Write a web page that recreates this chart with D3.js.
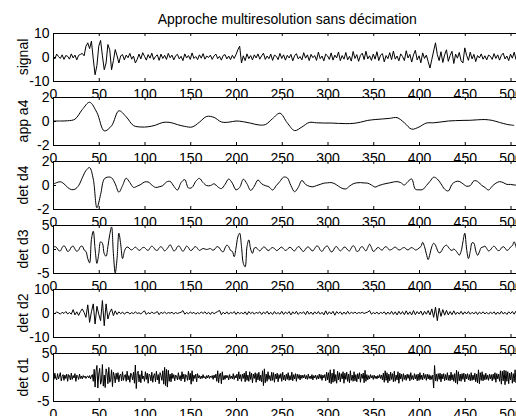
<!DOCTYPE html>
<html>
<head>
<meta charset="utf-8">
<script src="https://cdnjs.cloudflare.com/ajax/libs/d3/7.8.5/d3.min.js"></script>
<style>
	body { margin: 0; background: #fff; }
	svg { display: block; }
</style>
</head>
<body>
<svg id="fig"></svg>
<script>
const title = "Approche multiresolution sans décimation";
const labels = ["signal", "app a4", "det d4", "det d3", "det d2", "det d1"];
const xTicks = [0, 50, 100, 150, 200, 250, 300, 350, 400, 450, 500];
const yTicks = [[-10, 0, 10], [-2, 0, 2], [-2, 0, 2], [-5, 0, 5], [-10, 0, 10], [-5, 0, 5]];
const nSamples = 512;

// sample spacing of each list below (values read every `step` samples)
const steps = [2, 8, 4, 2, 2, 1];

const signal = [
	0.5, -0.8, 1.2, 0.2, -0.6, 0.9, -1.0, 0.6, 0.3, -0.9, 1.3, -0.4, 0.8, -1.2, 0.7, 1.1,
	1.5, 0.5, 4.5, 5.9, 3.5, 6.6, -0.8, -7.4, -3.5, 4.5, 6.9, 0.5, -5.3, -2.5, 5.2, 3.0,
	-5.3, -1.5, 3.1, 0.5, -2.5, 0.5, 1.0, -1.2, 0.8, -0.3, 1.5, -0.9, 0.4, -2.5, -1.0, 1.2,
	-0.8, 1.8, 0.3, -1.3, 1.0, -0.5, 1.6, -1.1, 0.2, 0.9, -1.4, 1.2, -0.6, 0.7, -1.0, 1.5,
	-0.3, 0.8, -1.2, 0.5, 1.1, -0.8, 0.3, -1.5, 1.3, -0.4, 0.6, -1.0, 1.7, -0.6, 0.2, -1.1,
	0.9, -0.5, 1.4, -0.9, 0.4, -0.2, 0.8, -1.0, 0.5, 1.2, -0.7, 0.3, -1.3, 0.6, 1.0, -0.8,
	0.4, -1.1, 0.7, -0.6, 1.0, 3.0, 4.5, -2.5, 0.5, -1.5, 1.3, -0.7, 0.6, -1.2, 0.9, -0.4,
	1.3, -0.9, 0.5, 1.6, -1.0, 0.4, -0.7, 1.2, -1.4, 0.8, 0.3, -1.1, 1.5, -0.6, 0.9, -1.3,
	0.7, -0.4, 1.1, -1.6, 0.5, 1.4, -0.8, 0.2, -1.2, 1.8, -0.5, 0.9, -1.5, 1.1, -0.3, 0.6,
	-1.4, 2.0, -0.7, 0.4, -1.6, 1.2, 0.5, -1.0, 1.7, -1.3, 0.8, -0.4, 2.1, -1.5, 0.6, -0.9,
	1.9, -1.2, 0.3, -1.7, 2.3, -0.6, 1.0, -1.8, 0.7, 1.6, -1.1, 2.4, -0.8, 0.5, -1.4, 1.2,
	-0.9, 2.2, -1.5, 0.8, 1.4, -2.0, 0.6, -0.7, 1.8, -1.1, 2.5, -0.9, 0.4, -1.6, 1.3, 0.2,
	-1.5, 2.6, -0.4, 1.1, -2.1, 0.9, 2.8, -1.2, 0.5, -2.4, 1.7, -0.6, 0.8, -1.9, -4.6, -1.0,
	2.5, 5.9, 1.0, -1.5, 2.2, -2.3, 0.9, 3.0, -1.8, 0.6, 2.4, -2.7, 1.2, -0.5, 1.9, -1.6,
	-2.5, 3.8, 0.7, -1.4, 2.0, -0.8, 1.1, -1.9, 0.6, -0.4, 1.3, -0.9, 0.5, -1.2, 0.8, 0.3,
	-1.0, 1.4, -0.6, 0.9, -1.3, 0.7, 1.6, -0.8, 0.4, -1.5, 1.2, -0.5, 2.0, -1.0, 0.6, -0.7
];

const a4 = [
	0, 0, 0.02, 0.15, 0.95, 1.56, 0.7, -0.82, -0.4, 0.85, 0.35, -0.38, -0.5, -0.48, -0.35, -0.12,
	-0.12, -0.3, -0.45, -0.5, -0.1, 0.38, 0.3, -0.08, -0.1, 0, -0.06, -0.18, -0.32, -0.3, 0.2, 0.65,
	-0.15, -0.8, -0.5, -0.12, -0.15, -0.17, -0.17, -0.2, -0.22, -0.2, -0.1, 0.05, 0.12, 0.17, 0.22, 0.28,
	-0.15, -0.68, -0.5, -0.17, -0.15, -0.08, 0, 0.03, 0.05, 0.06, 0.1, 0.12, 0.05, -0.12, -0.28, -0.37
];

const d4 = [
	0.05, 0.2, 0.27, 0.1, -0.2, -0.38, -0.35, -0.05, 0.6, 1.2, 1.45, 0.5, -1.9, -0.8, 0.5, 0.66,
	0.6, 0.1, -0.6, -0.05, 0.56, 0.2, -0.2, -0.1, 0.05, 0.25, 0.25, 0, -0.2, -0.15, -0.05, 0.25,
	0.3, -0.1, -0.42, 0.2, 0.45, -0.25, -0.2, 0.3, 0.55, 0.2, -0.05, -0.05, 0.1, -0.15, -0.3, 0.05,
	0.5, 0.15, -0.4, -0.2, 0.48, 0.1, -0.45, -0.1, 0.42, 0.1, -0.05, -0.15, -0.42, -0.05, 0.3, 0.65,
	0.6, -0.05, -0.56, -0.2, 0.38, 0.05, -0.1, -0.15, -0.05, 0.05, 0.15, 0.18, 0.2, 0.1, -0.1, -0.28,
	-0.33, -0.1, 0.1, 0.18, 0.2, 0.17, 0.15, 0, -0.17, -0.05, 0.05, 0.12, 0.18, 0.25, 0.28, 0.2,
	0, 0.3, 0.5, -0.35, -0.4, -0.38, -0.05, 0.3, 0.65, 0.5, 0.1, -0.35, -0.5, 0.05, 0.28, 0.3,
	0.1, -0.1, -0.05, 0.35, 0.3, 0, -0.2, -0.42, -0.1, 0.15, 0.28, 0.2, 0.05, 0.05, 0, 0
];

const d3v = [
	0.2, 0.5, 0.3, -0.3, -0.4, 0.3, 0.7, 0.2, -0.5, -0.3, 0.4, 0.6, 0, -0.5, -0.2, 0.5,
	0.6, -0.2, -0.5, -2.0, -2.9, 2.0, 3.7, 0.0, -3.0, -1.0, 1.5, 1.2, -1.0, -1.5, 0.5, 3.0,
	4.6, -1.0, -5.0, -2.0, 3.3, 1.0, -2.0, -0.5, 0.3, 0.4, 0, -0.2, 0.1, 0.4, 0.1, -0.3,
	-0.1, 0.3, 0.3, -0.1, -0.3, 0.2, 0.6, 0.3, -0.2, -0.3, 0.2, 0.5, 0.1, -0.4, -0.1, 0.4,
	0.9, 0.3, -0.4, -0.2, 0.5, 0.6, 0, -0.5, 0, 0.6, 0.3, -0.3, -0.2, 0.3, 0.5, 0.1,
	-0.3, -0.1, 0.1, 0, -0.1, 0, 0.1, -0.2, -0.2, 0.3, 0.5, 0.2, -0.4, -0.6, 0.2, 0.8,
	0.5, -0.3, -0.5, -1.6, 0.2, 2.5, 3.3, 0.5, -3.0, -3.7, 0.5, 1.9, 0, -0.9, 0.2, 0.3,
	-0.1, -0.4, 0, 0.4, 0.3, -0.2, -0.3, 0.1, 0.3, 0.1, -0.3, -0.2, 0.2, 0.4, 0, -0.3,
	-0.1, 0.3, 0.3, -0.2, -0.4, 0.1, 0.5, 0.3, -0.3, -0.5, 0, 0.4, 0.3, -0.2, -0.4, 0.1,
	0.6, 0.5, -0.2, -0.5, 0, 0.5, 0.6, 0, -0.6, -0.4, 0.3, 0.5, 0, -0.4, -0.1, 0.4,
	0.3, -0.2, -0.4, 0.2, 0.7, 0.3, -0.5, -0.4, 0.3, 0.5, 0, -0.4, 0.3, 1.0, 0.3, -0.5,
	-0.3, 0.2, 0.3, -0.1, -0.2, 0.3, 0.5, 0.1, -0.2, -0.1, 0.2, 0.4, 0.1, -0.2, -0.1, 0.2,
	0.3, 0, -0.2, 0.1, 0.3, 0.1, -0.2, -0.1, 0.2, 0.5, 1.4, 0.5, -1.0, -2.2, -1.0, 0.5,
	1.2, 0.8, -0.2, -0.8, -0.6, 0.1, 0.6, 0.8, 0.4, -0.1, -0.3, 0, -0.3, -0.8, -1.3, -0.5,
	1.5, 3.3, 0, -2.0, -0.5, 1.3, 1.2, -0.4, -1.3, -0.6, 0.3, 0.4, 0.6, 0.1, -0.4, -0.2,
	0.3, 0.6, 0.2, -0.3, -0.3, 0.2, 0.5, 0.2, -0.3, -0.1, 0.4, 0.7, 1.5, 0.5, -0.5, 0.2
];

const d2 = [
	0.2, -0.3, 0.4, 0.1, -0.5, 0.3, -0.2, 0.6, -0.4, 0.2, -0.5, 1.4, -0.8, 0.5, -1.0, 0.6,
	1.7, 0.2, -1.8, 3.4, -3.9, 0.5, 3.8, -4.6, 2.8, -0.5, -3.2, 5.2, -5.3, 3.8, -2.5, 0.2,
	1.7, -1.1, 0.9, -0.6, 0.5, -0.3, 0.4, -0.5, 0.2, 0.3, -0.4, 0.2, -0.3, 0.5, -0.2, 0.1,
	-0.4, 0.3, 0.9, -0.6, 0.2, -0.3, 0.4, -0.2, 0.1, 0.6, -0.7, 0.3, -0.2, 0.4, -0.3, 0.2,
	-0.1, 0.3, -0.4, 0.2, -0.2, 0.1, 0.3, 1.0, -0.5, 0.2, -0.3, 0.4, -0.2, 0.3, -0.5, 0.2,
	-0.3, 0.4, -0.2, 0.5, -0.4, 0.3, -0.6, 0.4, -0.3, 0.2, 0.6, 1.1, -0.7, 0.3, -0.4, 0.5,
	-0.5, 0.3, -0.2, 0.6, -0.6, 0.4, -0.3, 0.2, -0.4, 0.5, -0.7, 0.6, -0.3, 0.4, -0.5, 0.3,
	-0.2, 0.5, -0.6, 0.4, -0.3, 0.7, -0.5, 0.3, -0.6, 0.6, -0.4, 0.2, -0.5, 0.7, -0.6, 0.4,
	-0.3, 0.6, -0.8, 0.5, -0.4, 0.7, -0.6, 0.3, -0.2, 0.5, -0.7, 0.8, -0.5, 0.4, -0.6, 0.5,
	-0.4, 0.6, -0.5, 0.3, -0.8, 0.9, -0.6, 0.5, -0.4, 0.7, -0.9, 0.6, -0.3, 0.5, -0.6, 0.4,
	-0.5, 0.7, -0.4, 0.3, -0.2, 0.4, -0.3, 0.2, -0.1, 0.3, -0.2, 0.1, 0.4, 1.0, -0.5, 0.2,
	-0.3, 0.4, -0.5, 0.3, -0.2, 0.5, -0.6, 0.4, -0.5, 0.7, -0.6, 0.5, -0.8, 0.7, -0.5, 0.6,
	-0.7, 0.9, -0.6, 0.5, -0.8, 1.0, -0.7, 0.6, -0.4, 0.8, -0.9, 0.7, -0.5, 1.0, -0.8, 1.7,
	-1.8, 2.4, -3.2, 2.0, -1.4, 1.4, -0.9, 1.1, -0.8, 0.6, -0.7, 0.9, -0.6, 0.4, -0.5, 0.7,
	-0.6, 0.5, -0.4, 0.6, -0.5, 0.3, -0.4, 0.5, -0.6, 0.4, -0.3, 0.5, -0.4, 0.3, -0.5, 0.4,
	-0.3, 0.5, -0.6, 0.4, -0.5, 0.7, -0.4, 0.3, -0.6, 0.5, -0.3, 0.6, -0.5, 0.8, -0.4, 0.3
];

const d1 = [
	0.3, -0.5, 0.8, -0.2, -0.6, 0.7, -0.4, 0.2, 0.9, -0.8, 0.1, 0.5, -0.7, 0.4, -0.3, 0.6,
	-0.9, 0.5, 0.2, -0.6, 0.8, -0.5, 0.3, -0.2, 0.7, -0.9, 0.4, 0.1, -0.5, 0.6, -0.3, 0.2,
	-0.4, 0.3, -0.1, 0.2, -0.3, 0.1, 0.2, -0.2, 0.3, -0.4, 0.2, 0.5, -0.9, 1.6, -2.1, 1.2,
	2.4, -2.3, 0.6, 1.8, -1.5, -0.8, 2.6, -1.9, 0.4, -2.2, 1.7, 0.9, -1.4, 2.0, -1.1, -0.6,
	1.5, -2.0, 1.0, 0.3, -1.2, 0.8, -0.5, 0.9, -1.0, 0.4, 0.6, -0.8, 1.1, -0.7, 0.2, 0.5,
	-0.9, 1.2, -0.6, 0.3, -1.1, 0.8, 0.4, -0.6, 1.0, -1.3, 2.5, -2.4, 0.7, 1.2, -1.0, 0.5,
	-1.2, 1.3, -0.4, 0.2, -0.9, 1.1, -0.5, 0.8, -1.3, 0.6, 0.4, -0.8, 1.0, -1.1, 0.3, 0.7,
	-1.0, 1.2, -0.6, 0.5, -1.4, 0.9, 0.3, -0.7, 1.3, -1.5, 2.0, -1.8, 1.6, -2.1, 1.4, -0.9,
	0.6, -1.0, 0.8, -0.3, 0.5, -0.8, 0.4, 0.2, -0.6, 0.9, -0.5, 0.3, -0.8, 1.1, -0.4, 0.6,
	-1.0, 0.5, 0.3, -0.7, 1.2, -0.6, 0.8, -1.5, 1.3, -0.9, 0.4, -0.3, 0.6, -1.0, 0.7, -0.2,
	0.3, -0.4, 0.2, -0.3, 0.5, -0.2, 0.1, -0.4, 0.3, -0.2, 0.4, -0.3, 0.2, -0.1, 0.3, -0.5,
	0.4, -0.2, 0.6, -0.9, 1.3, -1.2, 0.5, 0.8, -1.4, 1.1, -0.6, 0.3, -0.5, 0.4, -0.2, 0.3,
	-0.6, 0.5, -0.3, 0.2, -0.4, 0.7, -0.5, 0.3, -0.2, 0.6, -0.8, 1.1, -0.4, 0.5, -0.9, 0.6,
	-0.3, 0.8, -1.0, 1.2, -0.7, 0.4, -0.9, 1.1, -0.5, 0.8, -1.2, 0.6, -0.3, 0.9, -1.1, 0.7,
	-0.6, 1.0, -0.8, 0.4, -1.0, 1.3, -1.8, 1.7, -1.2, 0.6, -0.9, 1.1, -0.5, 0.3, -0.8, 1.0,
	-0.7, 0.9, -1.1, 0.6, -0.4, 0.8, -1.0, 0.5, -0.3, 0.7, -0.9, 1.0, -0.6, 0.4, -0.8, 0.6,
	-0.5, 0.9, -0.7, 0.3, -0.6, 1.0, -0.8, 0.5, -0.4, 0.7, -0.9, 0.6, -0.3, 0.5, -0.6, 0.4,
	-0.3, 0.4, -0.2, 0.5, -0.4, 0.3, -0.5, 0.6, -0.3, 0.2, -0.4, 0.5, -0.6, 0.3, -0.2, 0.4,
	-0.5, 0.3, -0.4, 0.6, -0.3, 0.5, -0.7, 0.4, -0.2, 0.5, -0.8, 1.0, -0.6, 0.9, -1.2, 1.5,
	-1.4, 0.8, -1.1, 1.6, -0.9, 0.5, -1.3, 1.2, -0.6, 0.9, -1.0, 0.7, -0.4, 1.1, -1.3, 0.8,
	-0.5, 1.0, -0.9, 0.6, -1.2, 1.3, -0.7, 0.4, -0.9, 1.1, -0.8, 0.5, -1.0, 0.7, -0.4, 0.9,
	-1.1, 0.6, -0.3, 0.8, -1.2, 1.4, -0.9, 0.5, -0.6, 0.3, -0.4, 0.5, -0.2, 0.3, -0.5, 0.4,
	-0.3, 0.2, -0.4, 0.3, -0.2, 0.5, -0.3, 0.4, -0.6, 0.8, -1.1, 1.3, -0.7, 0.9, -1.2, 0.6,
	-0.8, 1.0, -0.5, 0.7, -1.0, 1.2, -0.9, 0.4, -0.6, 1.1, -1.3, 0.8, -0.4, 0.6, -0.9, 0.7,
	-0.5, 0.4, -0.7, 0.6, -0.3, 0.5, -0.8, 0.9, -0.5, 0.3, -0.6, 0.7, -0.4, 0.5, -0.8, 0.6,
	-0.7, 0.9, -0.5, 0.4, -0.6, 0.8, -0.3, 0.5, -0.7, 0.6, -0.4, 0.5, -0.6, 0.3, -0.5, 0.4,
	-2.3, 2.4, -0.8, 0.6, -0.9, 0.7, -0.5, 0.8, -1.0, 0.6, -0.4, 0.7, -0.8, 0.5, -0.6, 0.9,
	-0.7, 0.4, -0.8, 1.0, -0.6, 0.5, -0.9, 0.7, -1.2, 1.4, -1.5, 1.1, -0.8, 0.6, -0.9, 0.7,
	-0.5, 0.8, -1.0, 0.6, -0.4, 0.7, -0.6, 0.5, -0.8, 0.9, -0.7, 0.4, -0.6, 0.8, -1.0, 0.6,
	-1.2, 1.5, -1.4, 0.9, -0.7, 1.1, -0.8, 0.5, -0.6, 0.8, -0.5, 0.4, -0.7, 0.6, -0.4, 0.5,
	-0.8, 0.6, -0.5, 0.9, -1.1, 0.7, -0.4, 0.6, -0.9, 1.3, -1.5, 1.2, -0.8, 1.4, -1.6, 1.3,
	-0.9, 1.1, -1.4, 0.8, -0.6, 1.0, -1.3, 0.7, -1.0, 1.5, -1.2, 0.8, -0.6, 0.9, -0.5, 0.3
];

const series = [signal, a4, d4, d3v, d2, d1];

// layout
const w = 516, h = 416;
const left = 53, right = 521.5;
const top0 = 33, panelH = 48, panelGap = 64;
const font = "'Liberation Sans', Arial, Helvetica, sans-serif";
const curves = [d3.curveLinear, d3.curveCatmullRom, d3.curveCatmullRom, d3.curveCatmullRom, d3.curveLinear, d3.curveLinear];

let svg = d3.select("#fig")
	.attr("width", w)
	.attr("height", h);

svg.append("rect")
	.attr("width", w)
	.attr("height", h)
	.attr("fill", "#fff");

let x = d3.scaleLinear()
	.domain([0, nSamples])
	.range([left, right]);

svg.append("text")
	.text(title)
	.attr("x", (left + right) / 2)
	.attr("y", 23.5)
	.attr("text-anchor", "middle")
	.attr("font-size", "14px")
	.attr("font-family", font)
	.attr("fill", "#000");

series.forEach((values, k) => {
	let top = top0 + k * panelGap;
	let bottom = top + panelH;
	let ticks = yTicks[k];

	let y = d3.scaleLinear()
		.domain([ticks[0], ticks[ticks.length - 1]])
		.range([bottom, top]);

	let g = svg.append("g");

	// white axes background, hides the lower part of the previous panel's tick labels
	g.append("rect")
		.attr("x", left)
		.attr("y", top)
		.attr("width", right - left)
		.attr("height", panelH)
		.attr("fill", "#fff");

	g.append("clipPath")
		.attr("id", "clip" + k)
		.append("rect")
		.attr("x", left)
		.attr("y", top)
		.attr("width", right - left)
		.attr("height", panelH + 1);

	let lineFun = d3.line()
		.x((d, i) => x(i * steps[k]))
		.y(d => y(d))
		.curve(curves[k]);

	g.append("path")
		.attr("d", lineFun(values))
		.attr("fill", "none")
		.attr("stroke", "#000")
		.attr("stroke-width", 1)
		.attr("clip-path", `url(#clip${k})`);

	// bottom axis with labels, top axis with ticks only
	let xb = g.append("g")
		.attr("transform", `translate(0,${bottom})`)
		.call(d3.axisBottom(x).tickValues(xTicks).tickSizeInner(-3).tickSizeOuter(0)
			.tickPadding(8).tickFormat(d => String(d)));

	let xt = g.append("g")
		.attr("transform", `translate(0,${top})`)
		.call(d3.axisTop(x).tickValues(xTicks).tickSizeInner(-3).tickSizeOuter(0)
			.tickFormat(""));

	let yl = g.append("g")
		.attr("transform", `translate(${left},0)`)
		.call(d3.axisLeft(y).tickValues(ticks).tickSizeInner(-3).tickSizeOuter(0)
			.tickPadding(3.5).tickFormat(d => String(d)));

	[xb, xt, yl].forEach(a => {
		a.attr("font-size", 14).attr("font-family", font);
		a.selectAll("path, line").attr("stroke", "#000");
		a.selectAll("text").attr("fill", "#000");
	});

	g.append("text")
		.text(labels[k])
		.attr("transform", `translate(27.5,${(top + bottom) / 2}) rotate(-90)`)
		.attr("text-anchor", "middle")
		.attr("font-size", "14px")
		.attr("font-family", font)
		.attr("fill", "#000");
});
</script>
</body>
</html>
